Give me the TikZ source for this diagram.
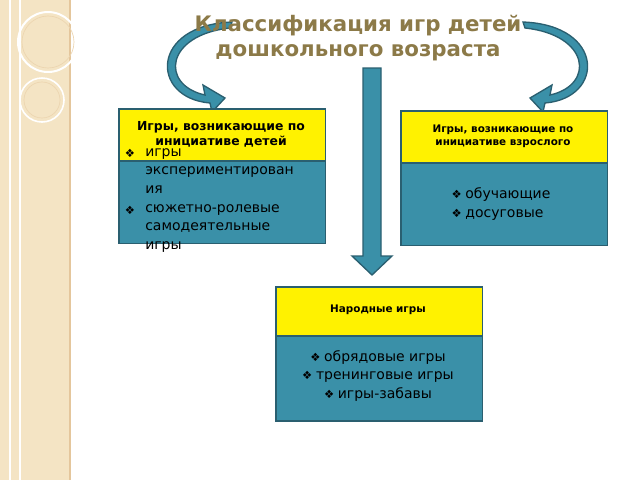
\documentclass[tikz,border=0pt]{standalone}
\usepackage{fontspec}
\setmainfont{DejaVu Sans}
\begin{document}
\begin{tikzpicture}[x=0.75pt,y=-0.75pt,
 hdr/.style={fill=yellow,draw=bordc,line width=1.2pt},
 body/.style={fill=tealc,draw=bordc,line width=1.2pt},
 arr/.style={fill=tealc,draw=bordc,line width=1pt}]
\definecolor{tealc}{HTML}{3A90A8}
\definecolor{bordc}{HTML}{2A5F70}
\definecolor{titc}{HTML}{8C7A48}
\definecolor{beige}{HTML}{F4E4C4}
\useasboundingbox (0,0) rectangle (640,480);
\fill[white] (0,0) rectangle (640,480);
% left decoration
\fill[beige] (0,0) rectangle (70,480);
\draw[color=beige!70!brown,line width=1pt] (70,0) -- (70,480);
\draw[white,line width=1.2pt] (10,0) -- (10,480) (20,0)--(20,480);
\draw[white,line width=1.5pt] (48,42) circle (30);
\draw[white,line width=1.2pt] (42,100) circle (22);
\draw[beige!85!brown,line width=0.5pt] (48,42) circle (26) (42,100) circle (18);
% curved arrows
\draw[arr] (230,28) .. controls (165,35) and (160,85) .. (205,95) -- (203,85) -- (225,98) -- (212,112) -- (210,103)
  .. controls (150,98) and (150,25) .. (232,22) -- cycle;
\draw[arr] (525,28) .. controls (590,35) and (595,85) .. (550,95) -- (552,85) -- (530,98) -- (543,112) -- (545,103)
  .. controls (605,98) and (605,25) .. (523,22) -- cycle;
% title
\node[text=titc,font=\bfseries\fontsize{16}{19}\selectfont,align=center] (title) at (358,38) {Классификация игр детей\\дошкольного возраста};
% down arrow
\draw[arr] (363,68) -- (381,68) -- (381,256) -- (392,256) -- (372,275) -- (352,256) -- (363,256) -- cycle;
% left box
\node[hdr,minimum width=155pt,minimum height=39pt,anchor=north west,inner sep=0] (lh) at (118,108) {};
\node[body,minimum width=155pt,minimum height=62pt,anchor=north west,inner sep=0] (lb) at (118,160) {};
\node[font=\bfseries\fontsize{9.3}{11}\selectfont,align=center,anchor=north] (lht) at (221,117) {Игры, возникающие по\\ инициативе детей};
\node[font=\fontsize{10.5}{14}\selectfont,align=left,anchor=north west,inner sep=0] (lbt) at (145,148) {игры\\экспериментирован\\ия\\сюжетно-ролевые\\самодеятельные\\игры};
\node[font=\fontsize{8.5}{10}\selectfont] (b1) at (130,153) {❖};
\node[font=\fontsize{8.5}{10}\selectfont] (b2) at (130,210) {❖};
% right box
\node[hdr,minimum width=155pt,minimum height=39pt,anchor=north west,inner sep=0] (rh) at (400,110) {};
\node[body,minimum width=155pt,minimum height=62pt,anchor=north west,inner sep=0] (rb) at (400,162) {};
\node[font=\bfseries\fontsize{7.8}{10}\selectfont,align=center] (rht) at (503,136) {Игры, возникающие по\\инициативе взрослого};
\node[font=\fontsize{10.5}{14}\selectfont,align=left] (rbt) at (501,204) {\fontsize{8.5}{14}\selectfont❖ \fontsize{10.5}{14}\selectfont обучающие\\\fontsize{8.5}{14}\selectfont❖ \fontsize{10.5}{14}\selectfont досуговые};
% bottom box
\node[hdr,minimum width=155pt,minimum height=37pt,anchor=north west,inner sep=0] (bh) at (275,286) {};
\node[body,minimum width=155pt,minimum height=64pt,anchor=north west,inner sep=0] (bb) at (275,335) {};
\node[font=\bfseries\fontsize{7.8}{10}\selectfont] (bht) at (378,310) {Народные игры};
\node[font=\fontsize{10.5}{14}\selectfont,align=center] (bbt) at (378,376) {\fontsize{8.5}{14}\selectfont❖ \fontsize{10.5}{14}\selectfont обрядовые игры\\\fontsize{8.5}{14}\selectfont❖ \fontsize{10.5}{14}\selectfont тренинговые игры\\\fontsize{8.5}{14}\selectfont❖ \fontsize{10.5}{14}\selectfont игры-забавы};
\end{tikzpicture}
\end{document}
